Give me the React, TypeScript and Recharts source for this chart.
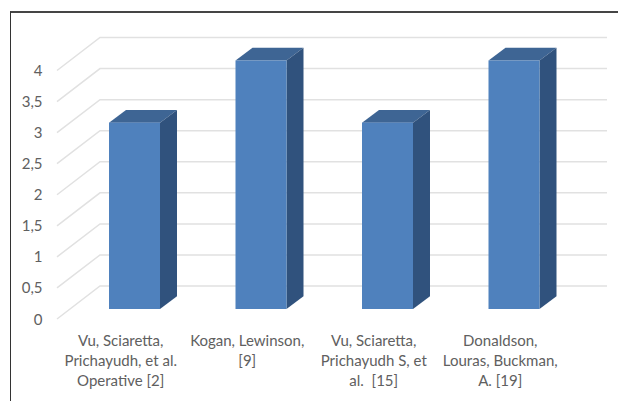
import { BarChart, Bar, XAxis, YAxis, CartesianGrid } from "recharts";

const CATEGORIES = [
  "Vu, Sciaretta, Prichayudh, et al. Operative [2]",
  "Kogan, Lewinson, [9]",
  "Vu, Sciaretta, Prichayudh S, et al.  [15]",
  "Donaldson, Louras, Buckman, A. [19]",
];
const CATEGORY_LINES = [
  ["Vu, Sciaretta,", "Prichayudh, et al.", "Operative [2]"],
  ["Kogan, Lewinson,", "[9]"],
  ["Vu, Sciaretta,", "Prichayudh S, et", "al.  [15]"],
  ["Donaldson,", "Louras, Buckman,", "A. [19]"],
];
const VALUES = [3, 4, 3, 4];
const Y_TICKS = [0, 0.5, 1, 1.5, 2, 2.5, 3, 3.5, 4];

const data = CATEGORIES.map((name, i) => ({ name, value: VALUES[i] }));

const FONT = "Lato, 'Open Sans', sans-serif";
const TEXT_COLOR = "#606060";
const DEPTH_X = 17;
const DEPTH_Y = 12.7;

// box with a lit front face, a top face and a darker right side
const Box = ({ x, y, width, height }: any) => {
  const r = x + width;
  const b = y + height;
  return (
    <g>
      <polygon
        points={`${x},${y} ${x + DEPTH_X},${y - DEPTH_Y} ${r + DEPTH_X},${y - DEPTH_Y} ${r},${y}`}
        fill="#3e6594"
      />
      <polygon
        points={`${r},${y} ${r + DEPTH_X},${y - DEPTH_Y} ${r + DEPTH_X},${b - DEPTH_Y} ${r},${b}`}
        fill="#30527d"
      />
      <rect x={x} y={y} width={width} height={height} fill="#4f81bd" />
    </g>
  );
};

// side wall diagonal plus back wall line for one value
const WallLine = ({ y1, key }: any) => (
  <path
    key={key ?? y1}
    d={`M57,${y1 + 10} L100,${y1 - 23} H607`}
    fill="none"
    stroke="#e1e1e1"
    strokeWidth={1.5}
  />
);

const ValueTick = ({ y, payload }: any) => (
  <text x={42.5} y={y + 10} dy={5.5} textAnchor="end" fontFamily={FONT} fontSize={15} fill={TEXT_COLOR}>
    {String(payload.value).replace(".", ",")}
  </text>
);

const CategoryTick = ({ x, payload, index }: any) => (
  <text textAnchor="middle" fontFamily={FONT} fontSize={15} fill={TEXT_COLOR}>
    {CATEGORY_LINES[index ?? payload.index].map((line, i) => (
      <tspan key={i} x={x - 13.5} y={345.5 + i * 20} xmlSpace="preserve">
        {line}
      </tspan>
    ))}
  </text>
);

export default function App() {
  return (
    <div style={{ position: "fixed", left: 0, top: 0, width: 618, height: 401, background: "#fff" }}>
      <div
        style={{
          position: "absolute",
          left: 9.5,
          top: 11,
          right: 0,
          bottom: 0,
          borderTop: "2px solid #454545",
          borderLeft: "1.5px solid #333",
        }}
      />
      <div style={{ position: "absolute", left: 0, top: 0 }}>
        <BarChart
          width={618}
          height={401}
          data={data}
          margin={{ top: 60.5, right: 41, bottom: 0, left: 0 }}
          barCategoryGap={0}
          barSize={51}
        >
          <CartesianGrid vertical={false} horizontal={(props: any) => <WallLine {...props} />} />
          <XAxis dataKey="name" height={92} axisLine={false} tickLine={false} interval={0} tick={<CategoryTick />} />
          <YAxis
            type="number"
            domain={[0, 4]}
            ticks={Y_TICKS}
            width={71}
            axisLine={false}
            tickLine={false}
            tick={<ValueTick />}
            interval={0}
          />
          <Bar dataKey="value" isAnimationActive={false} shape={<Box />} />
        </BarChart>
      </div>
    </div>
  );
}
